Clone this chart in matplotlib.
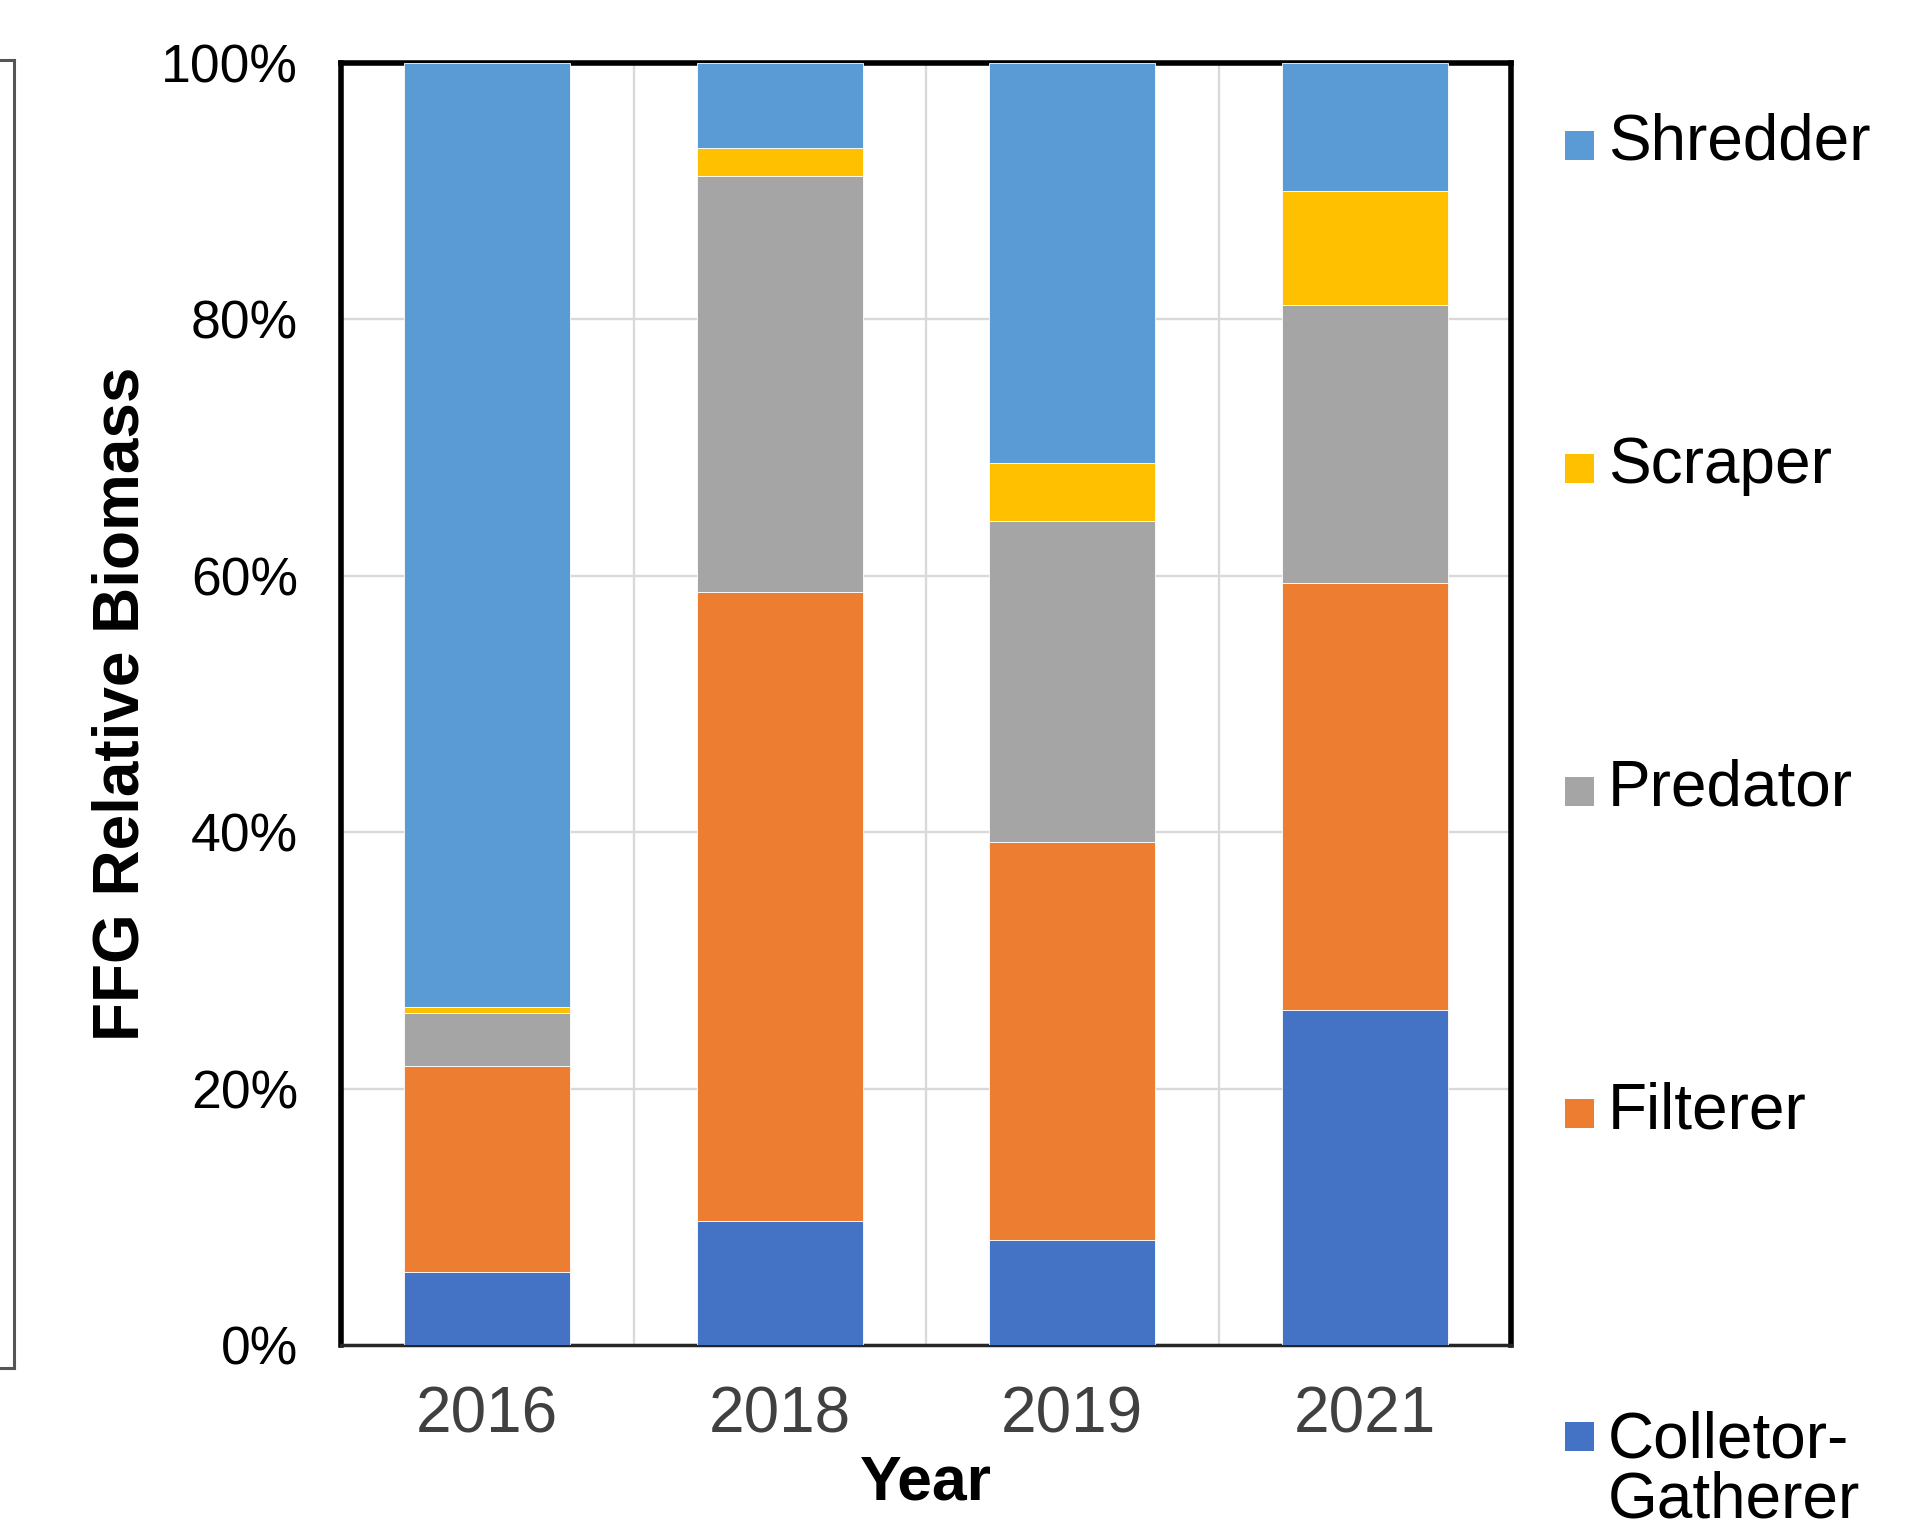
import matplotlib
matplotlib.use("Agg")
import matplotlib.pyplot as plt
from matplotlib.lines import Line2D
from matplotlib.patches import Rectangle
from matplotlib.ticker import FuncFormatter, FixedLocator

plt.rcParams["font.family"] = ["Liberation Sans", "DejaVu Sans"]

# ---- data (percent of total biomass) ----
years = ["2016", "2018", "2019", "2021"]
colletor_gatherer = [5.7, 9.7, 8.2, 26.1]
filterer = [16.1, 49.0, 31.0, 33.3]
predator = [4.1, 32.5, 25.1, 21.7]
scraper = [0.5, 2.2, 4.5, 8.9]
shredder = [73.6, 6.6, 31.2, 10.0]

series_names = ["Colletor-\nGatherer", "Filterer", "Predator", "Scraper", "Shredder"]
series_values = [colletor_gatherer, filterer, predator, scraper, shredder]
series_colors = ["#4472C4", "#ED7D31", "#A5A5A5", "#FFC000", "#5B9BD5"]
y_ticks = [0, 20, 40, 60, 80, 100]

W, H = 1909, 1530
fig = plt.figure(figsize=(W / 100, H / 100), dpi=100)
ax = fig.add_axes([341 / W, 1 - 1345 / H, 1170 / W, (1345 - 63) / H])

x = list(range(len(years)))
bottom = [0.0] * len(years)
for name, vals, col in zip(series_names, series_values, series_colors):
    ax.bar(x, vals, width=0.567, bottom=bottom, color=col,
           edgecolor="#FFFFFF", linewidth=0.6, zorder=3, label=name)
    bottom = [b + v for b, v in zip(bottom, vals)]

ax.set_xlim(-0.5, len(years) - 0.5)
ax.set_ylim(0, 100)
ax.set_xticks(x)
ax.set_xticklabels(years)
ax.xaxis.set_minor_locator(FixedLocator([i + 0.5 for i in x[:-1]]))
ax.set_yticks(y_ticks)
ax.yaxis.set_major_formatter(FuncFormatter(lambda v, p: f"{v:.0f}%"))

ax.grid(axis="y", which="major", color="#D9D9D9", linewidth=1.7, zorder=0)
ax.grid(axis="x", which="minor", color="#D9D9D9", linewidth=1.7, zorder=0)
ax.grid(axis="x", which="major", visible=False)

ax.tick_params(axis="both", which="both", length=0)
ax.tick_params(axis="y", labelsize=38.5, pad=31, labelcolor="black")
ax.tick_params(axis="x", labelsize=46, pad=29, labelcolor="#404040")

for side in ["left", "top", "right"]:
    ax.spines[side].set_color("black")
    ax.spines[side].set_linewidth(4)
ax.spines["bottom"].set_color("#262626")
ax.spines["bottom"].set_linewidth(2.5)


def fx(px):
    return px / W


def fy(py):
    return 1 - py / H


# axis titles
fig.text(fx(122), fy(704), "FFG Relative Biomass", rotation=90,
         ha="center", va="center", fontsize=46, fontweight="bold")
fig.text(fx(926), fy(1483), "Year", ha="center", va="center",
         fontsize=45, fontweight="bold")

# legend, top entry first; marker sits on the first text line
line_step = 66
entry_centers = [145.5 + 322.75 * i for i in range(5)]
for (name, col), cy in zip(list(zip(series_names, series_colors))[::-1], entry_centers):
    base = cy + 14.5
    fig.add_artist(Rectangle((fx(1565), fy(base)), 29 / W, 29 / H,
                             transform=fig.transFigure, facecolor=col,
                             edgecolor="none"))
    extra = line_step * name.count("\n")
    fig.text(fx(1608), fy(base + extra), name, ha="left", va="baseline",
             fontsize=46, color="black", linespacing=1.0)

# frame edge of neighbouring panel at the left margin
edge_kw = dict(transform=fig.transFigure, color="#555555", linewidth=2.2)
fig.add_artist(Line2D([fx(14), fx(14)], [fy(60), fy(1368)], **edge_kw))
fig.add_artist(Line2D([fx(0), fx(14)], [fy(60), fy(60)], **edge_kw))
fig.add_artist(Line2D([fx(0), fx(14)], [fy(1368), fy(1368)], **edge_kw))

fig.savefig("out.png", dpi=100, facecolor="white")
